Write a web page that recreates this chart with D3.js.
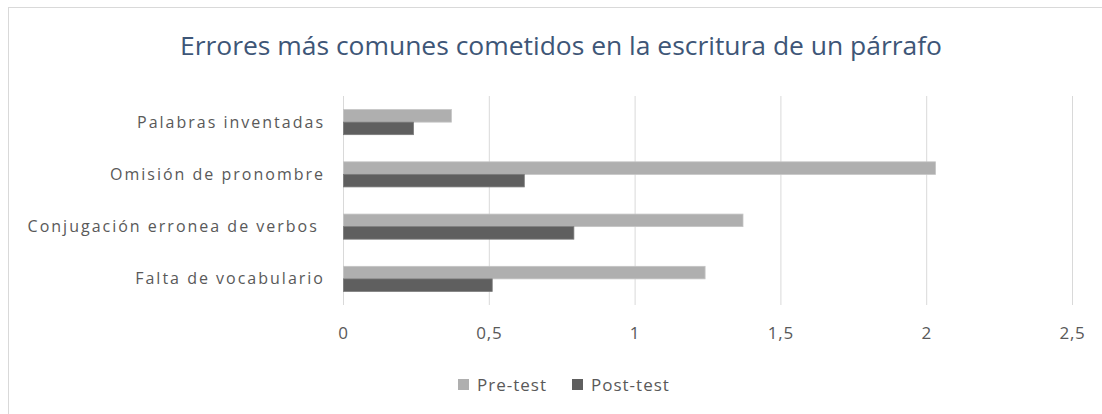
<!DOCTYPE html>
<html><head><meta charset="utf-8">
<script src="https://cdn.jsdelivr.net/npm/d3@7"></script>
<style>body{margin:0;background:#fff}svg{display:block}text{font-family:"Open Sans",sans-serif}</style>
</head><body>
<svg id="c" width="1102" height="414"></svg>
<script>
const title = "Errores más comunes cometidos en la escritura de un párrafo";
const categories = ["Palabras inventadas","Omisión de pronombre","Conjugación erronea de verbos ","Falta de vocabulario"];
const seriesNames = ["Pre-test","Post-test"];
const preTest = [0.37, 2.03, 1.37, 1.24];
const postTest = [0.24, 0.62, 0.79, 0.51];
const xTicks = [0, 0.5, 1, 1.5, 2, 2.5];
const colors = ["#AFAFAF", "#5F5F5F"];

const svg = d3.select("#c");
svg.append("rect").attr("x",8.5).attr("y",7.5).attr("width",1200).attr("height",500)
  .attr("fill","#fff").attr("stroke","#D9D9D9");

const m = {left:343, right:1072, top:96, bottom:305};
const x = d3.scaleLinear().domain([0,2.5]).range([m.left,m.right]);
const y = d3.scaleBand().domain(categories).range([m.top,m.bottom]).paddingInner(0.52).paddingOuter(0.26);
const ySub = d3.scaleBand().domain(seriesNames).range([0,y.bandwidth()]);

// gridlines
svg.append("g").selectAll("line").data(xTicks).join("line")
  .attr("x1",d=>x(d)+0.5).attr("x2",d=>x(d)+0.5).attr("y1",m.top).attr("y2",m.bottom)
  .attr("stroke","#D9D9D9").attr("stroke-width",1);

// bars
const data = categories.map((c,i)=>({c, vals:[preTest[i], postTest[i]]}));
const g = svg.append("g").selectAll("g").data(data).join("g")
  .attr("transform",d=>`translate(0,${y(d.c)})`);
g.selectAll("rect").data(d=>d.vals.map((v,j)=>({v,s:seriesNames[j],j}))).join("rect")
  .attr("x",x(0)+0.5).attr("y",d=>ySub(d.s)).attr("width",d=>x(d.v)-x(0))
  .attr("height",ySub.bandwidth()).attr("fill",d=>colors[d.j])
  .attr("stroke",d=>d.j===0?"#C4C4C4":"#7A7A7A").attr("stroke-width",0.8);

// x axis labels
const xAxis = d3.axisBottom(x).tickValues(xTicks).tickSize(0).tickPadding(0)
  .tickFormat(d=>String(d).replace(".",","));
const xa = svg.append("g").attr("transform",`translate(0,${m.bottom+22})`).call(xAxis);
xa.select(".domain").remove();
xa.selectAll("text").attr("fill","#595959").attr("font-size",17).attr("letter-spacing",0.8)
  .attr("font-family","'Open Sans',sans-serif");

// y axis labels
const yAxis = d3.axisLeft(y).tickSize(0).tickPadding(0);
const ya = svg.append("g").attr("transform",`translate(${m.left-18},0)`).call(yAxis);
ya.select(".domain").remove();
ya.selectAll("text").attr("fill","#595959").attr("font-size",16).attr("letter-spacing",2)
  .attr("font-family","'Open Sans',sans-serif")
  .attr("dy","0.35em").style("white-space","pre");

// title
svg.append("text").attr("x",561).attr("y",55).attr("text-anchor","middle")
  .attr("fill","#3E5677").attr("font-size",25).attr("textLength",762)
  .attr("lengthAdjust","spacingAndGlyphs").text(title);

// legend
const lg = svg.append("g").attr("transform","translate(458,385)");
const items = lg.selectAll("g").data(seriesNames).join("g")
  .attr("transform",(d,i)=>`translate(${i*114},0)`);
items.append("rect").attr("x",0).attr("y",-6).attr("width",11).attr("height",11).attr("fill",(d,i)=>colors[i]);
items.append("text").attr("x",19).attr("y",0).attr("dy","0.35em").attr("fill","#595959")
  .attr("font-size",17).attr("letter-spacing",1).text(d=>d);
</script>
</body></html>
